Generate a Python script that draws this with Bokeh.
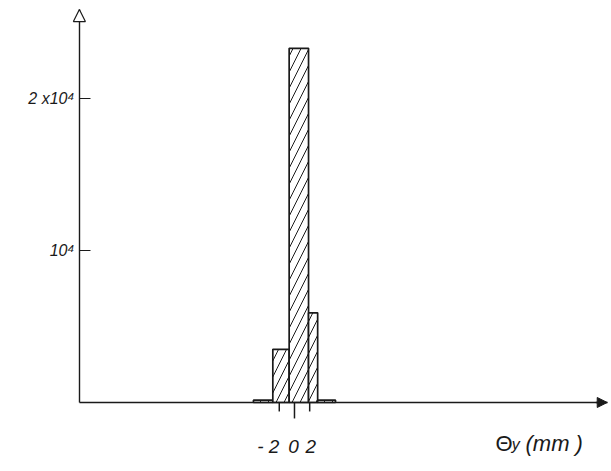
from bokeh.plotting import figure
from bokeh.models import LinearAxis, FixedTicker, Arrow, NormalHead, Range1d
from bokeh.core.properties import value
from bokeh.embed import file_html
from bokeh.resources import INLINE

# histogram bins (theta_y in mm) and counts
bin_left = [-5.4, -2.85, -0.7, 1.85, 3.05]
bin_right = [-2.85, -0.7, 1.85, 3.05, 5.4]
counts = [150, 3500, 23300, 5900, 150]

xtick_values = [-2, 0, 2]
xtick_labels = ["- 2", "0", "2"]
ytick_values = [10000, 20000]
ytick_labels = ["10\u2074", "2 x10\u2074"]

FONT = "Liberation Sans"
INK = "#1a1a1a"

p = figure(width=610, height=470,
           x_range=Range1d(-38.68, 41.58), y_range=Range1d(-4474, 26447),
           x_axis_type=None, y_axis_type=None,
           toolbar_location=None, output_backend="svg",
           min_border_left=0, min_border_right=0, min_border_top=0, min_border_bottom=0)
p.outline_line_color = None
p.background_fill_color = "white"

Y_AXIS_X = -28.3
X_AXIS_END = 41.15
Y_AXIS_END = 25850

# x axis: line only, ticks drawn below
xaxis = LinearAxis(fixed_location=0, bounds=(Y_AXIS_X, X_AXIS_END),
                   ticker=FixedTicker(ticks=[]),
                   major_tick_in=0, major_tick_out=0, minor_tick_out=0, minor_tick_in=0,
                   axis_line_width=1.4, axis_line_color=INK)
p.add_layout(xaxis, "below")

yaxis = LinearAxis(fixed_location=Y_AXIS_X, bounds=(0, Y_AXIS_END),
                   ticker=FixedTicker(ticks=ytick_values),
                   major_label_overrides=dict(zip(ytick_values, ytick_labels)),
                   major_tick_in=11, major_tick_out=0, minor_tick_out=0, minor_tick_in=0,
                   axis_line_width=1.4, axis_line_color=INK,
                   major_tick_line_width=1.2, major_tick_line_color=INK,
                   major_label_standoff=5,
                   major_label_text_font=FONT, major_label_text_font_style="italic",
                   major_label_text_font_size="16px", major_label_text_color=INK)
p.add_layout(yaxis, "left")

# x ticks (zero tick longer) and their labels
tick_len = [590, 1050, 590]
p.segment(x0=xtick_values, y0=[0, 0, 0], x1=xtick_values, y1=[-l for l in tick_len],
          line_width=1.5, line_color=INK)
p.text(x=xtick_values, y=[-2900] * len(xtick_values), text=xtick_labels,
       x_offset=[-11, -1, 1],
       text_font=value(FONT), text_font_style="italic", text_font_size="19px",
       text_color=INK, text_align="center", text_baseline="alphabetic")

# histogram bars, hatched
p.quad(left=bin_left, right=bin_right, bottom=0, top=counts,
       fill_color="white", line_color=INK, line_width=1.7,
       hatch_pattern="/", hatch_scale=16, hatch_weight=1, hatch_color=INK)

# axis arrows
p.add_layout(Arrow(end=NormalHead(size=12, fill_color="white", line_color=INK, line_width=1.2),
                   x_start=Y_AXIS_X, y_start=Y_AXIS_END - 600, x_end=Y_AXIS_X, y_end=Y_AXIS_END,
                   line_color=INK, line_width=1.4))
p.add_layout(Arrow(end=NormalHead(size=10, fill_color=INK, line_color=INK, line_width=1.0),
                   x_start=X_AXIS_END - 1.5, y_start=0, x_end=X_AXIS_END, y_end=0,
                   line_color=INK, line_width=1.4))

# x axis title: Theta_y (mm)
p.text(x=[26.45], y=[-2700], text=["\u0398"], text_font=value(FONT),
       text_font_size="22px", text_color=INK, text_baseline="alphabetic")
p.text(x=[28.6], y=[-2750], text=["y"], text_font=value(FONT), text_font_style="italic",
       text_font_size="16px", text_color=INK, text_baseline="alphabetic")
p.text(x=[30.4], y=[-2700], text=["(mm )"], text_font=value(FONT), text_font_style="italic",
       text_font_size="22px", text_color=INK, text_baseline="alphabetic")

open("out.html", "w").write(file_html(p, INLINE))
